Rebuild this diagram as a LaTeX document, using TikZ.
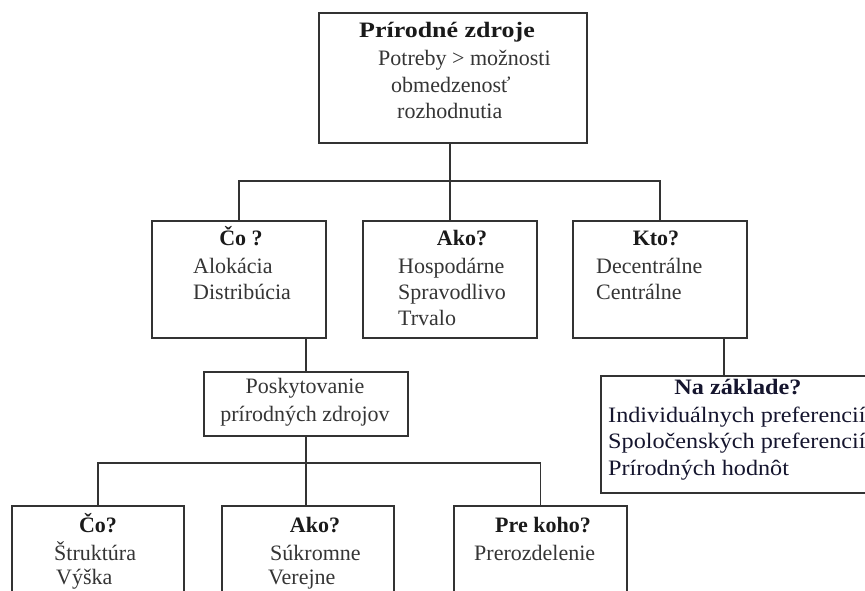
\documentclass[tikz,border=0pt]{standalone}
\usepackage{fontspec}
\setmainfont{Liberation Serif}
\usepackage{graphicx}
\definecolor{linec}{HTML}{333333}
\definecolor{txt}{HTML}{353535}
\definecolor{hdr}{HTML}{1A1A1A}
\definecolor{navy}{HTML}{15152E}
\tikzset{
  box/.style={draw=linec, line width=1.5pt, fill=white, minimum width=#1, inner sep=0pt},
  conn/.style={draw=linec, line width=1.5pt},
  hd/.style={anchor=base, inner sep=0pt, text=hdr, font=\fontsize{22}{26}\selectfont\bfseries},
  tl/.style={anchor=base west, inner sep=0pt, text=txt, font=\fontsize{22}{26}\selectfont},
  nl/.style={anchor=base west, inner sep=0pt, text=navy, font=\fontsize{22}{26}\selectfont},
}
\begin{document}
\begin{tikzpicture}[x=1pt, y=-1pt]
\path[use as bounding box] (0,0) rectangle (865,590);
\clip (0,0) rectangle (865,590);
\fill[white] (0,0) rectangle (865,590);

% boxes
\node[box=268pt, minimum height=130pt] (top) at (453,78) {};
\node[box=174pt, minimum height=117pt] (co) at (239,279.5) {};
\node[box=174pt, minimum height=117pt] (ako) at (450,279.5) {};
\node[box=174pt, minimum height=117pt] (kto) at (660,279.5) {};
\node[box=204pt, minimum height=64pt] (posk) at (306,404) {};
\node[box=299pt, minimum height=117pt] (naz) at (750.5,434.5) {};
\node[box=172pt, minimum height=124pt] (b1) at (98,568) {};
\node[box=172pt, minimum height=124pt] (b2) at (308,568) {};
\node[box=173pt, minimum height=124pt] (b3) at (540.5,568) {};

% connectors
\coordinate (bus1) at (0,181);
\coordinate (bus2) at (0,463);
\coordinate (kz) at (724,0);
\draw[conn] (ako.north |- top.south) -- (ako.north);
\draw[conn] (co.north) -- (co.north |- bus1) -- (kto.north |- bus1) -- (kto.north);
\draw[conn] (posk.north |- co.south) -- (posk.north);
\draw[conn] (kz |- kto.south) -- (kz |- naz.north);
\draw[conn] (posk.south) -- (posk.south |- b2.north);
\draw[conn] (b1.north) -- (b1.north |- bus2) -- (b3.north |- bus2) -- (b3.north);

% texts: top
\node[hd] (t0) at (447,37) {\scalebox{1.18}[1]{Prírodné zdroje}};
\node[tl] (t1) at (378,65) {Potreby > možnosti};
\node[tl] (t2) at (391,92) {obmedzenosť};
\node[tl] (t3) at (397,118) {rozhodnutia};

% co
\node[hd] (c0) at (241,245) {Čo ?};
\node[tl] (c1) at (193,273) {Alokácia};
\node[tl] (c2) at (193,299) {Distribúcia};

% ako
\node[hd] (a0) at (462,245) {Ako?};
\node[tl] (a1) at (398,273) {Hospodárne};
\node[tl] (a2) at (398,299) {Spravodlivo};
\node[tl] (a3) at (398,325) {Trvalo};

% kto
\node[hd] (k0) at (656,245) {Kto?};
\node[tl] (k1) at (596,273) {Decentrálne};
\node[tl] (k2) at (596,299) {Centrálne};

% poskytovanie
\node[anchor=base, inner sep=0pt, text=txt, font=\fontsize{22}{26}\selectfont] (p1) at (305,393) {Poskytovanie};
\node[anchor=base, inner sep=0pt, text=txt, font=\fontsize{22}{26}\selectfont] (p2) at (305,421) {prírodných zdrojov};

% na zaklade
\node[hd, text=navy] (n0) at (738,394) {\scalebox{1.1}[1]{Na základe?}};
\node[nl] (n1) at (608,422) {\scalebox{1.1}[1]{Individuálnych preferencií}};
\node[nl] (n2) at (608,448) {\scalebox{1.1}[1]{Spoločenských preferencií}};
\node[nl] (n3) at (608,475) {\scalebox{1.1}[1]{Prírodných hodnôt}};

% bottom row
\node[hd] (d0) at (98,532) {Čo?};
\node[tl] (d1) at (54,560) {Štruktúra};
\node[tl] (d2) at (56,584) {Výška};
\node[hd] (e0) at (315,532) {Ako?};
\node[tl] (e1) at (270,560) {Súkromne};
\node[tl] (e2) at (268,584) {Verejne};
\node[hd] (f0) at (543,532) {Pre koho?};
\node[tl] (f1) at (474,560) {Prerozdelenie};
\end{tikzpicture}
\end{document}
